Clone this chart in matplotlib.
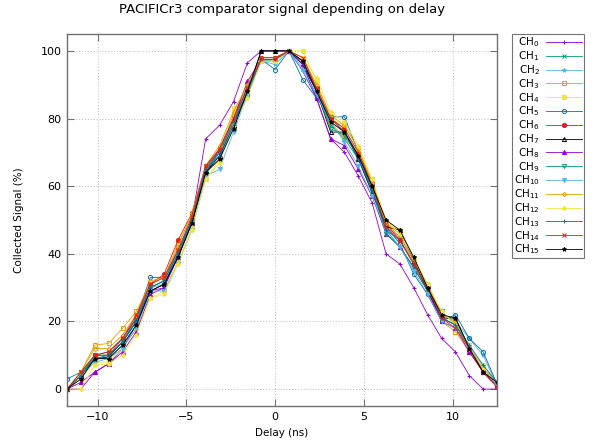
import matplotlib
matplotlib.use("Agg")
import matplotlib.pyplot as plt

delay = [-11.72, -10.94, -10.16, -9.38, -8.59, -7.81, -7.03, -6.25, -5.47, -4.69,
         -3.91, -3.13, -2.34, -1.56, -0.78, 0.0, 0.78, 1.56, 2.34, 3.13,
         3.91, 4.69, 5.47, 6.25, 7.03, 7.81, 8.59, 9.38, 10.16, 10.94, 11.72, 12.5]

ch0 = [0, 0, 5, 7.5, 12, 19, 29, 30, 40, 50, 74, 78, 85, 96.5, 100, 100, 100, 94, 86, 74, 70, 63, 55, 40, 37, 30, 22, 15, 11, 4, 0, 0]
ch1 = [0, 4, 10, 10, 14, 21, 30, 32, 41, 50, 65, 71, 80, 90, 97, 97.5, 100, 96, 88, 78, 74, 68, 59, 47, 42, 36, 29, 21, 19, 13, 6, 2]
ch2 = [0, 5, 9, 9, 13, 19, 30, 31, 40, 49, 64, 68, 78, 88, 97, 96, 100, 95, 87, 80, 77, 69, 60, 48, 45, 38, 31, 22, 20, 15, 10, 1]
ch3 = [0, 5, 13, 13.5, 18, 23, 31, 33, 43, 51, 66, 71, 81, 90, 98, 98, 100, 97, 89, 79, 74, 70, 60, 49, 45, 37, 29, 20, 17, 11, 5, 1]
ch4 = [0, 3, 8, 8, 12, 18, 27, 29, 38, 48, 62, 68, 83, 88, 97, 97, 100, 100, 91, 80, 78, 71, 62, 49, 47, 38, 30, 22, 20, 13, 7, 2]
ch5 = [3, 5, 10, 11, 15, 21, 33, 33, 41, 50, 64, 70, 79, 87, 97.5, 94.5, 100, 91.5, 86, 80.5, 80.5, 70, 60, 48, 43, 34, 28, 20, 22, 15, 11, 1.5]
ch6 = [0, 4, 10, 10, 15, 21, 31, 34, 44, 52, 66, 70, 79, 89, 98, 98, 100, 97, 89, 80, 77, 70, 61, 49, 44, 37, 30, 21, 19, 12, 5, 1]
ch7 = [0, 4, 9, 9.5, 14, 20, 29, 31, 39, 49, 64, 69, 78, 88, 100, 100, 100, 96, 88, 76, 76, 68, 58, 48, 47, 38, 29, 21, 21, 12, 5, 2]
ch8 = [0, 2, 5, 7.5, 11, 17, 28, 30, 39, 49, 64, 71, 80, 91, 97.5, 97.5, 100, 96, 86, 74, 72, 65, 57, 46, 42, 36, 29, 20, 18, 11, 5, 1]
ch9 = [0, 4, 10, 10, 14, 20, 30, 32, 40, 50, 65, 70, 79, 89, 97, 97.5, 100, 97, 88, 77, 75, 69, 59, 46, 42, 36, 29, 23, 19, 12, 6, 2]
ch10 = [0, 4, 8, 9, 12, 18, 29, 29, 37, 47, 63, 65, 76, 87, 97, 97, 100, 94, 87, 79, 73, 66, 57, 47, 42, 35, 28, 20, 18, 12, 6, 1]
ch11 = [0, 5, 12, 12, 16, 22, 32, 33, 42, 52, 66, 72, 82, 90, 97.5, 97.5, 100, 98, 90, 81, 78, 71, 61, 49, 46, 38, 31, 22, 20, 12, 6, 2]
ch12 = [0, 0, 7, 7.5, 10, 16, 27, 28, 37, 47, 62, 67, 78, 86, 97, 97, 100, 98, 92, 82, 79, 72, 62, 50, 46, 39, 31, 23, 19, 13, 6, 2]
ch13 = [0, 4, 9, 10, 14, 20, 30, 32, 40, 50, 65, 69, 78, 88, 97.5, 97.5, 100, 97, 88, 80, 76, 68, 59, 47, 44, 37, 30, 21, 19, 13, 7, 2]
ch14 = [0, 5, 10, 11, 15, 22, 31, 33, 41, 51, 66, 71, 80, 89, 97.5, 97.5, 100, 98, 89, 80, 76, 69, 60, 48, 44, 37, 30, 21, 18, 12, 5, 0.5]
ch15 = [0, 3, 9, 9, 13, 19, 29, 31, 39, 49, 64, 68, 77, 88, 100, 100, 100, 97, 88, 79, 76, 69, 60, 50, 47, 39, 30, 22, 21, 12, 5, 2]

channels = [ch0, ch1, ch2, ch3, ch4, ch5, ch6, ch7, ch8, ch9, ch10, ch11, ch12, ch13, ch14, ch15]
labels = [r"CH$_{%d}$" % i for i in range(16)]

palette = ["#9400D3", "#009E73", "#56B4E9", "#E69F00", "#F0E442", "#0072B2", "#E51E10", "#000000"]
markers = [("+", True), ("x", True), ("*", True), ("s", False), ("s", True), ("o", False),
           ("o", True), ("^", False), ("^", True), ("v", False), ("v", True), ("D", False),
           ("D", True)]

fig = plt.figure(figsize=(5.97, 4.43), dpi=100)
ax = fig.add_axes([67/597, 1-406/443, 430/597, 372/443])

for i, vals in enumerate(channels):
    col = palette[i % 8]
    m, filled = markers[i % 13]
    ms = 2.2 if m == "D" else 3
    ax.plot(delay, vals, color=col, lw=0.6, marker=m, ms=ms,
            markerfacecolor=col if filled else "none", markeredgecolor=col,
            markeredgewidth=0.7, label=labels[i])

ax.set_xlim(-11.72, 12.5)
ax.set_ylim(-5, 105)
ax.set_xticks([-10, -5, 0, 5, 10])
ax.set_yticks([0, 20, 40, 60, 80, 100])
ax.grid(True, color="#b8b8b8", linestyle=(0, (1, 2)), linewidth=0.7)
ax.tick_params(direction="in", top=True, right=True, length=5, labelsize=8,
               color="#707070", pad=4)
for s in ax.spines.values():
    s.set_color("#707070")
    s.set_linewidth(1.0)

ax.set_xlabel("Delay (ns)", fontsize=7.5, labelpad=5)
ax.set_ylabel("Collected Signal (%)", fontsize=7.5, labelpad=12)
ax.set_title("PACIFICr3 comparator signal depending on delay", fontsize=9.5, pad=15)

leg = fig.legend(loc="upper left", bbox_to_anchor=(512/597, 1-34/443),
                 bbox_transform=fig.transFigure, markerfirst=False, fontsize=7.5,
                 frameon=True, fancybox=False, borderpad=0.15, labelspacing=0.0,
                 handlelength=3.5, handletextpad=0.6, borderaxespad=0)
leg.get_frame().set_edgecolor("#505050")
leg.get_frame().set_linewidth(0.8)

fig.savefig("out.png", dpi=100)
